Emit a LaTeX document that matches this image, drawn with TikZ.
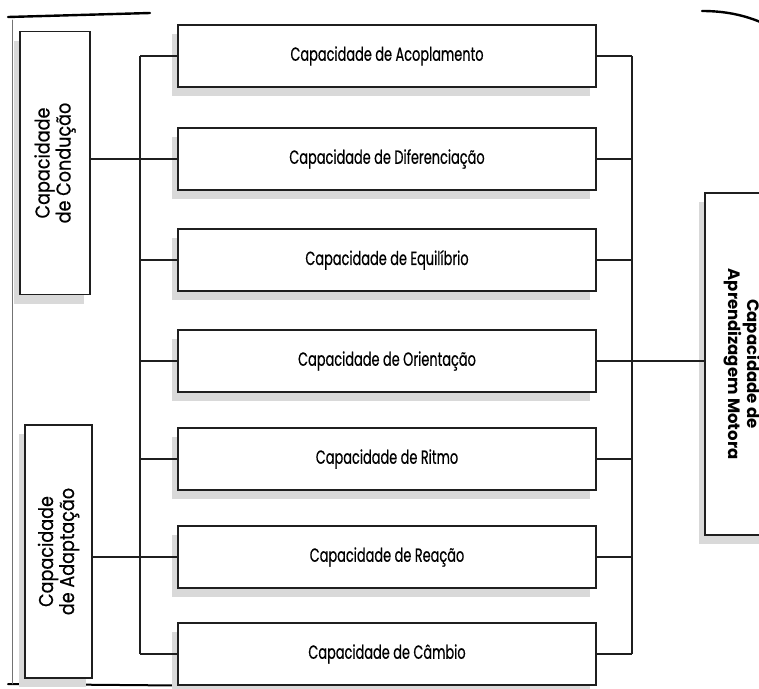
\documentclass[tikz,border=0pt]{standalone}
\usepackage{fontspec}
\setmainfont{Poppins}
\newfontfamily\condfont{Poppins}[FakeStretch=0.68, FakeBold=0.5]
\newfontfamily\sidefont{Poppins}[FakeStretch=0.88, FakeBold=0.5]
\usetikzlibrary{shadows}
\begin{document}
\begin{tikzpicture}[x=1pt,y=-1pt,
  ln/.style={line width=1.4pt, draw=black!88},
  shd/.style={drop shadow={shadow xshift=-6pt, shadow yshift=-9pt, fill=black!15, opacity=1}},
  mbox/.style={draw=black!88, line width=1.4pt, fill=white, shd, minimum width=418pt,
    minimum height=62pt, inner sep=0pt, outer sep=0pt,
    font=\condfont\fontsize{19}{22}\selectfont},
  sbox/.style={draw=black!88, line width=1.4pt, fill=white, inner sep=0pt, outer sep=0pt,
    align=center, font=\sidefont\fontsize{20}{21}\selectfont},
  bbox/.style={draw=black!88, line width=1.4pt, fill=white, inner sep=0pt, outer sep=0pt,
    align=center, font=\bfseries\fontsize{16.5}{19}\selectfont},
  frame/.style={draw=black, line cap=round}
]
\clip (0,0) rectangle (759,688);
\fill[white] (0,0) rectangle (759,688);

% page edges of the scan
\draw[frame, line width=2.4pt] (8,17) -- (150,13);
\draw[frame, line width=2pt] (8,684) -- (460,688);
\draw[frame, line width=0.6pt, draw=black!55] (12,20) -- (12,684);
\draw[frame, line width=2.4pt] (702,11) .. controls (725,11) and (745,15) .. (765,24);

% middle boxes
\node[mbox] (b1) at (387,56)  {Capacidade de Acoplamento};
\node[mbox] (b2) at (387,159) {Capacidade de Diferenciação};
\node[mbox] (b3) at (387,260) {Capacidade de Equilíbrio};
\node[mbox] (b4) at (387,361) {Capacidade de Orientação};
\node[mbox] (b5) at (387,459) {Capacidade de Ritmo};
\node[mbox] (b6) at (387,557) {Capacidade de Reação};
\node[mbox] (b7) at (387,654) {Capacidade de Câmbio};

% left boxes
\node[sbox, shd, rotate=90, minimum width=263pt, minimum height=70pt] (cond) at (55,163)
  {Capacidade\\de Condução};
\node[sbox, shd, rotate=90, minimum width=253pt, minimum height=67pt] (adap) at (58.5,551.5)
  {Capacidade\\de Adaptação};

% right box
\node[bbox, shd, rotate=-90, minimum width=342pt, minimum height=74pt] (mot) at (742,364)
  {Capacidade de\\Aprendizagem Motora};

% buses
\coordinate (LT) at (140,56);
\coordinate (LB) at (140,654);
\coordinate (RT) at (632,56);
\coordinate (RB) at (632,654);
\draw[ln] (LT) -- (LB);
\draw[ln] (RT) -- (RB);
\foreach \b in {b1,b2,b3,b4,b5,b6,b7}{
  \draw[ln] (\b.west) -- (\b.west -| LT);
  \draw[ln] (\b.east) -- (\b.east -| RT);
}
\draw[ln] (cond.south |- b2.west) -- (b2.west -| LT);
\draw[ln] (adap.south |- b6.west) -- (b6.west -| LT);
\draw[ln] (b4.east -| RT) -- (mot.south |- b4.east);
\end{tikzpicture}
\end{document}
